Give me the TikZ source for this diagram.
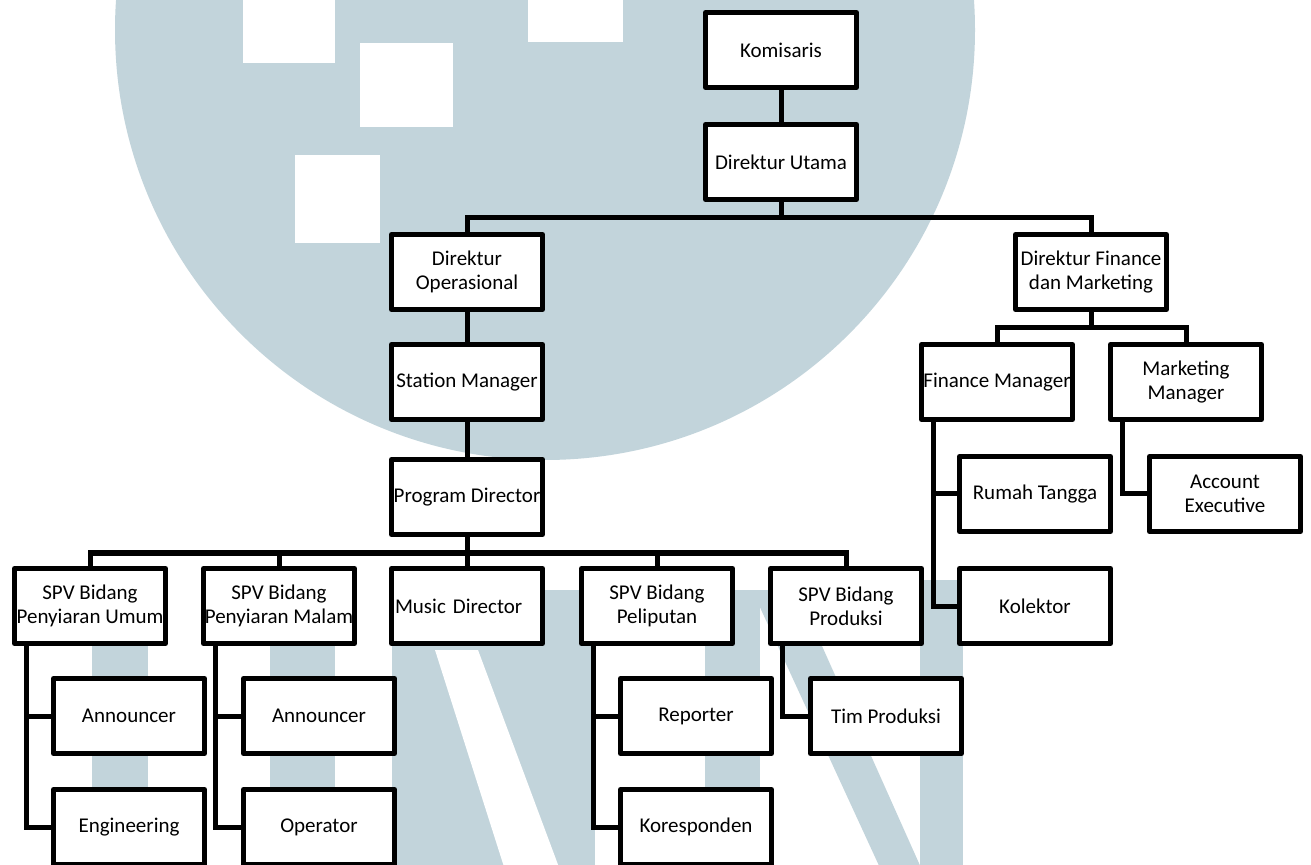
\documentclass[tikz,border=0pt]{standalone}
\usepackage{fontspec}
\setmainfont{Carlito}
\definecolor{wmark}{RGB}{194,212,219}
\tikzstyle{unit} = [draw, line width=2.5pt, line join=round, fill=white, minimum width=75.5pt, minimum height=37.5pt, inner sep=0.5pt, align=center, font=\fontsize{10.5}{12}\selectfont]
\tikzstyle{link} = [line width=2.5pt]

\begin{document}
\begin{tikzpicture}[x=0.5pt, y=-0.5pt]
        \useasboundingbox (0,0) rectangle (1311,865);
        \fill[white] (0,0) rectangle (1311,865);
        % watermark behind the chart
        \begin{scope}
        \clip (0,0) rectangle (1311,865);
        \fill[wmark] (545,30) circle [radius=215pt];
        \fill[white] (243,-5) rectangle (335,63);
        \fill[white] (360,43) rectangle (453,127);
        \fill[white] (295,155) rectangle (380,243);
        \fill[white] (528,-5) rectangle (623,42);
        \fill[wmark] (92,590) rectangle (148,870);
        \fill[wmark] (270,590) rectangle (335,870);
        \fill[wmark] (392,590) rectangle (595,870);
        \fill[white] (435,650) -- (478,650) -- (560,870) -- (505,870) -- cycle;
        \fill[wmark] (705,590) rectangle (760,870);
        \fill[wmark] (752,590) -- (797,590) -- (922,870) -- (881,870) -- cycle;
        \fill[wmark] (920,580) rectangle (963,870);
        \end{scope}

        \node (kom) [unit] at (781,50) {Komisaris};
        \node (dirut) [unit] at (781,162) {Direktur Utama};
        \node (dirops) [unit] at (467,272) {Direktur\\Operasional};
        \node (dirfin) [unit] at (1091,272) {Direktur Finance\\dan Marketing};
        \node (stm) [unit] at (467,382) {Station Manager};
        \node (prog) [unit] at (467,497) {Program Director};
        \node (finmgr) [unit] at (997,382) {Finance Manager};
        \node (mktmgr) [unit] at (1186,382) {Marketing\\Manager};
        \node (rumah) [unit] at (1035,494) {Rumah Tangga};
        \node (kolektor) [unit] at (1035,606) {Kolektor};
        \node (acc) [unit] at (1225,494) {Account\\Executive};
        \node (spvU) [unit] at (90,606) {SPV Bidang\\Penyiaran Umum};
        \node (spvM) [unit] at (279,606) {SPV Bidang\\Penyiaran Malam};
        \node (music) [unit, text width=72pt, align=left] at (467,606) {Music Director};
        \node (spvP) [unit] at (657,606) {SPV Bidang\\Peliputan};
        \node (spvProd) [unit] at (846,606) {SPV Bidang\\Produksi};
        \node (ann1) [unit] at (129,716) {Announcer};
        \node (eng) [unit] at (129,827) {Engineering};
        \node (ann2) [unit] at (319,716) {Announcer};
        \node (oper) [unit] at (319,827) {Operator};
        \node (rep) [unit] at (696,716) {Reporter};
        \node (kor) [unit] at (696,827) {Koresponden};
        \node (tim) [unit] at (886,716) {Tim Produksi};

        \draw[link] (kom) -- (dirut);
        \draw[link] (dirut.south) -- ++(0,16) -| (dirops.north);
        \draw[link] (dirut.south) -- ++(0,16) -| (dirfin.north);
        \draw[link] (dirops) -- (stm);
        \draw[link] (stm) -- (prog);
        \draw[link] (prog.south) -- ++(0,16) -| (spvU.north);
        \draw[link] (prog.south) -- ++(0,16) -| (spvM.north);
        \draw[link] (prog.south) -- ++(0,16) -| (music.north);
        \draw[link] (prog.south) -- ++(0,16) -| (spvP.north);
        \draw[link] (prog.south) -- ++(0,16) -| (spvProd.north);
        \draw[link] (dirfin.south) -- ++(0,16) -| (finmgr.north);
        \draw[link] (dirfin.south) -- ++(0,16) -| (mktmgr.north);
        \draw[link] ([xshift=7pt]spvU.south west) |- (ann1.west);
        \draw[link] ([xshift=7pt]spvU.south west) |- (eng.west);
        \draw[link] ([xshift=7pt]spvM.south west) |- (ann2.west);
        \draw[link] ([xshift=7pt]spvM.south west) |- (oper.west);
        \draw[link] ([xshift=7pt]spvP.south west) |- (rep.west);
        \draw[link] ([xshift=7pt]spvP.south west) |- (kor.west);
        \draw[link] ([xshift=7pt]spvProd.south west) |- (tim.west);
        \draw[link] ([xshift=7pt]finmgr.south west) |- (rumah.west);
        \draw[link] ([xshift=7pt]finmgr.south west) |- (kolektor.west);
        \draw[link] ([xshift=7pt]mktmgr.south west) |- (acc.west);
    \end{tikzpicture}
\end{document}
